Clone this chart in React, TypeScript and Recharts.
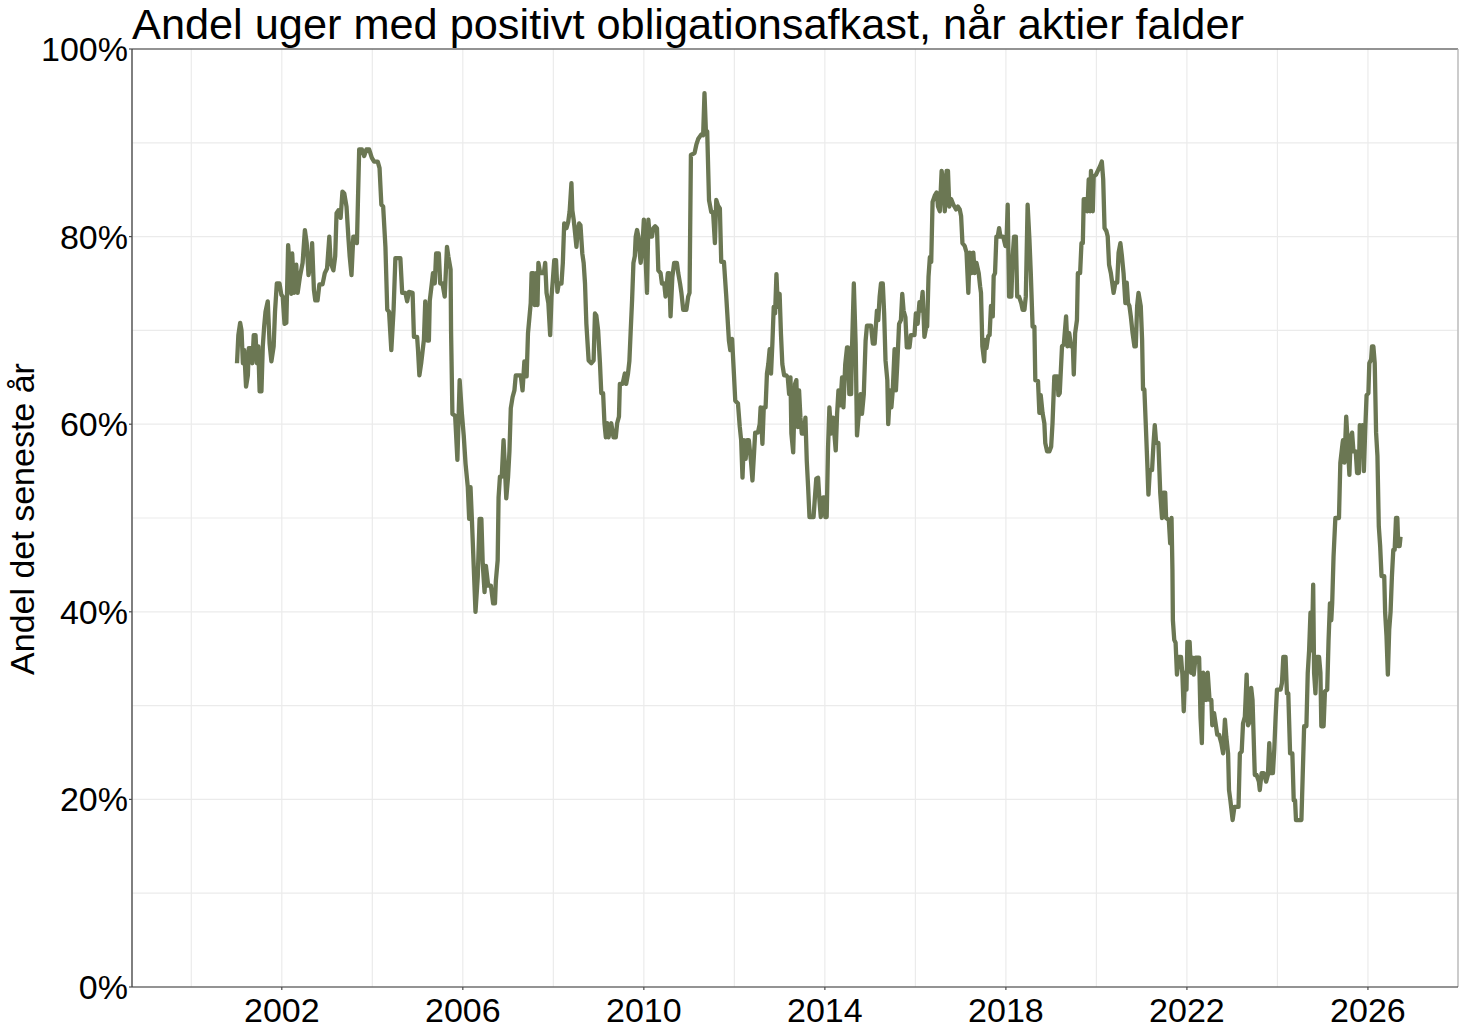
import React from 'react';
import { LineChart, Line, XAxis, YAxis, CartesianGrid, ReferenceLine } from 'recharts';

const W = 1472;
const H = 1031;
const FONT = '"Liberation Sans", Arial, Helvetica, sans-serif';
const LINE_COLOR = '#6b7753';
const AXIS_COLOR = '#333333';
const TICK_FONT = 34;

const title = 'Andel uger med positivt obligationsafkast, når aktier falder';
const yLabel = 'Andel det seneste år';

// grid every 2 years / 10 %, labels every 4 years / 20 %
const gridYears = [2000, 2002, 2004, 2006, 2008, 2010, 2012, 2014, 2016, 2018, 2020, 2022, 2024, 2026];
const labelYears = [2002, 2006, 2010, 2014, 2018, 2022, 2026];
const gridPcts = [0, 10, 20, 30, 40, 50, 60, 70, 80, 90, 100];
const labelPcts = [0, 20, 40, 60, 80, 100];
const xDomain = [1998.69, 2027.99];

// week (decimal year)
const weekDates = [
  2001.01, 2001.04, 2001.08, 2001.11, 2001.14, 2001.17, 2001.21, 2001.25, 2001.27, 2001.32,
  2001.35, 2001.38, 2001.42, 2001.45, 2001.48, 2001.51, 2001.55, 2001.58, 2001.61, 2001.64,
  2001.69, 2001.73, 2001.77, 2001.82, 2001.85, 2001.89, 2001.95, 2001.99, 2002.02, 2002.06,
  2002.10, 2002.14, 2002.17, 2002.21, 2002.23, 2002.27, 2002.32, 2002.35, 2002.40, 2002.46,
  2002.51, 2002.55, 2002.59, 2002.64, 2002.67, 2002.71, 2002.74, 2002.79, 2002.83, 2002.90,
  2002.95, 2003.00, 2003.05, 2003.08, 2003.14, 2003.18, 2003.21, 2003.25, 2003.30, 2003.34,
  2003.38, 2003.43, 2003.47, 2003.50, 2003.54, 2003.58, 2003.62, 2003.66, 2003.71, 2003.77,
  2003.82, 2003.87, 2003.93, 2003.99, 2004.04, 2004.12, 2004.16, 2004.20, 2004.24, 2004.29,
  2004.33, 2004.37, 2004.42, 2004.47, 2004.51, 2004.62, 2004.66, 2004.73, 2004.77, 2004.81,
  2004.89, 2004.92, 2004.99, 2005.01, 2005.04, 2005.08, 2005.14, 2005.17, 2005.22, 2005.25,
  2005.27, 2005.31, 2005.34, 2005.38, 2005.41, 2005.47, 2005.50, 2005.55, 2005.60, 2005.65,
  2005.68, 2005.73, 2005.74, 2005.77, 2005.83, 2005.88, 2005.93, 2005.98, 2006.02, 2006.06,
  2006.11, 2006.14, 2006.17, 2006.20, 2006.28, 2006.33, 2006.37, 2006.41, 2006.44, 2006.48,
  2006.51, 2006.56, 2006.62, 2006.67, 2006.71, 2006.73, 2006.77, 2006.79, 2006.82, 2006.86,
  2006.90, 2006.93, 2006.96, 2007.00, 2007.03, 2007.06, 2007.10, 2007.14, 2007.17, 2007.28,
  2007.32, 2007.36, 2007.41, 2007.44, 2007.47, 2007.50, 2007.52, 2007.56, 2007.59, 2007.62,
  2007.65, 2007.67, 2007.71, 2007.79, 2007.82, 2007.85, 2007.89, 2007.93, 2007.96, 2007.99,
  2008.02, 2008.06, 2008.09, 2008.12, 2008.18, 2008.21, 2008.24, 2008.29, 2008.33, 2008.36,
  2008.40, 2008.42, 2008.45, 2008.48, 2008.51, 2008.54, 2008.57, 2008.60, 2008.64, 2008.67,
  2008.70, 2008.73, 2008.78, 2008.84, 2008.89, 2008.92, 2008.95, 2008.99, 2009.03, 2009.06,
  2009.10, 2009.13, 2009.16, 2009.19, 2009.22, 2009.28, 2009.33, 2009.38, 2009.41, 2009.45,
  2009.47, 2009.53, 2009.58, 2009.61, 2009.65, 2009.68, 2009.71, 2009.74, 2009.77, 2009.80,
  2009.82, 2009.85, 2009.88, 2009.90, 2009.93, 2009.97, 2010.00, 2010.03, 2010.07, 2010.10,
  2010.13, 2010.18, 2010.21, 2010.25, 2010.29, 2010.32, 2010.37, 2010.40, 2010.45, 2010.48,
  2010.53, 2010.56, 2010.59, 2010.63, 2010.67, 2010.73, 2010.76, 2010.80, 2010.83, 2010.87,
  2010.94, 2010.98, 2011.01, 2011.04, 2011.12, 2011.16, 2011.20, 2011.27, 2011.31, 2011.34,
  2011.37, 2011.40, 2011.44, 2011.49, 2011.53, 2011.57, 2011.60, 2011.64, 2011.68, 2011.71,
  2011.77, 2011.82, 2011.88, 2011.91, 2011.95, 2011.99, 2012.02, 2012.08, 2012.12, 2012.15,
  2012.18, 2012.21, 2012.25, 2012.28, 2012.32, 2012.37, 2012.40, 2012.43, 2012.46, 2012.52,
  2012.56, 2012.58, 2012.62, 2012.65, 2012.69, 2012.72, 2012.75, 2012.78, 2012.81, 2012.84,
  2012.87, 2012.90, 2012.93, 2012.96, 2013.00, 2013.03, 2013.06, 2013.10, 2013.15, 2013.18,
  2013.21, 2013.24, 2013.26, 2013.30, 2013.34, 2013.37, 2013.40, 2013.43, 2013.46, 2013.49,
  2013.54, 2013.57, 2013.60, 2013.63, 2013.66, 2013.75, 2013.78, 2013.81, 2013.85, 2013.88,
  2013.91, 2013.96, 2013.99, 2014.01, 2014.04, 2014.07, 2014.10, 2014.14, 2014.18, 2014.21,
  2014.24, 2014.27, 2014.30, 2014.34, 2014.38, 2014.41, 2014.45, 2014.49, 2014.51, 2014.54,
  2014.58, 2014.60, 2014.64, 2014.68, 2014.71, 2014.75, 2014.79, 2014.82, 2014.86, 2014.90,
  2014.93, 2015.02, 2015.06, 2015.10, 2015.15, 2015.18, 2015.21, 2015.24, 2015.28, 2015.31,
  2015.34, 2015.38, 2015.40, 2015.44, 2015.47, 2015.50, 2015.54, 2015.57, 2015.60, 2015.64,
  2015.68, 2015.71, 2015.74, 2015.78, 2015.81, 2015.87, 2015.90, 2015.98, 2016.01, 2016.05,
  2016.09, 2016.12, 2016.16, 2016.20, 2016.24, 2016.26, 2016.29, 2016.32, 2016.35, 2016.38,
  2016.43, 2016.47, 2016.50, 2016.54, 2016.58, 2016.61, 2016.65, 2016.69, 2016.72, 2016.75,
  2016.79, 2016.84, 2016.90, 2016.94, 2016.98, 2017.01, 2017.04, 2017.09, 2017.13, 2017.17,
  2017.20, 2017.24, 2017.28, 2017.31, 2017.35, 2017.40, 2017.43, 2017.45, 2017.48, 2017.52,
  2017.54, 2017.57, 2017.61, 2017.64, 2017.67, 2017.71, 2017.73, 2017.76, 2017.79, 2017.82,
  2017.85, 2017.88, 2017.94, 2017.99, 2018.01, 2018.04, 2018.07, 2018.12, 2018.15, 2018.18,
  2018.22, 2018.25, 2018.29, 2018.34, 2018.37, 2018.41, 2018.44, 2018.48, 2018.52, 2018.55,
  2018.59, 2018.63, 2018.65, 2018.71, 2018.74, 2018.77, 2018.81, 2018.85, 2018.87, 2018.91,
  2018.96, 2019.00, 2019.03, 2019.07, 2019.14, 2019.16, 2019.19, 2019.24, 2019.28, 2019.33,
  2019.36, 2019.40, 2019.44, 2019.48, 2019.50, 2019.53, 2019.57, 2019.59, 2019.64, 2019.67,
  2019.70, 2019.72, 2019.77, 2019.80, 2019.83, 2019.86, 2019.88, 2019.92, 2019.94, 2019.99,
  2020.03, 2020.08, 2020.12, 2020.15, 2020.18, 2020.22, 2020.25, 2020.28, 2020.32, 2020.36,
  2020.38, 2020.42, 2020.46, 2020.49, 2020.53, 2020.56, 2020.60, 2020.64, 2020.67, 2020.70,
  2020.73, 2020.76, 2020.80, 2020.84, 2020.87, 2020.90, 2020.93, 2020.98, 2021.01, 2021.03,
  2021.06, 2021.09, 2021.13, 2021.15, 2021.18, 2021.23, 2021.26, 2021.29, 2021.32, 2021.37,
  2021.41, 2021.45, 2021.48, 2021.52, 2021.54, 2021.60, 2021.63, 2021.66, 2021.68, 2021.69,
  2021.72, 2021.75, 2021.78, 2021.82, 2021.87, 2021.90, 2021.93, 2021.96, 2021.99, 2022.01,
  2022.06, 2022.09, 2022.12, 2022.15, 2022.19, 2022.27, 2022.30, 2022.33, 2022.36, 2022.39,
  2022.43, 2022.46, 2022.50, 2022.54, 2022.56, 2022.60, 2022.64, 2022.67, 2022.71, 2022.76,
  2022.80, 2022.84, 2022.87, 2022.91, 2022.93, 2022.96, 2023.01, 2023.05, 2023.14, 2023.17,
  2023.21, 2023.24, 2023.28, 2023.32, 2023.35, 2023.39, 2023.42, 2023.45, 2023.50, 2023.54,
  2023.59, 2023.61, 2023.65, 2023.70, 2023.75, 2023.79, 2023.82, 2023.85, 2023.90, 2023.93,
  2023.96, 2023.99, 2024.07, 2024.10, 2024.13, 2024.18, 2024.21, 2024.24, 2024.28, 2024.33,
  2024.36, 2024.39, 2024.41, 2024.53, 2024.56, 2024.59, 2024.64, 2024.67, 2024.70, 2024.73,
  2024.76, 2024.79, 2024.81, 2024.84, 2024.87, 2024.92, 2024.95, 2024.97, 2025.02, 2025.05,
  2025.10, 2025.13, 2025.16, 2025.19, 2025.21, 2025.24, 2025.28, 2025.36, 2025.39, 2025.44,
  2025.45, 2025.48, 2025.52, 2025.55, 2025.59, 2025.62, 2025.65, 2025.68, 2025.73, 2025.76,
  2025.80, 2025.82, 2025.85, 2025.88, 2025.91, 2025.94, 2025.97, 2026.01, 2026.03, 2026.07,
  2026.09, 2026.12, 2026.15, 2026.18, 2026.21, 2026.24, 2026.27, 2026.30, 2026.36, 2026.38,
  2026.41, 2026.44, 2026.47, 2026.50, 2026.53, 2026.56, 2026.59, 2026.62, 2026.65, 2026.67,
  2026.70, 2026.72,
];

// share of weeks (%) with positive bond return when stocks fell, same order as weekDates
const shareValues = [
  66.5, 69.5, 70.8, 70.0, 66.5, 67.9, 64.0, 65.2, 68.1, 68.1,
  66.5, 69.5, 69.5, 66.5, 68.3, 63.5, 63.5, 68.3, 70.4, 72.0,
  73.1, 68.6, 66.7, 68.3, 72.0, 75.0, 75.0, 73.8, 73.6, 70.7,
  70.8, 79.1, 77.2, 73.9, 78.2, 74.0, 77.0, 74.0, 75.7, 77.2,
  80.7, 79.3, 75.9, 77.2, 79.3, 74.3, 73.2, 73.2, 74.9, 74.9,
  76.1, 76.6, 80.0, 77.2, 76.4, 77.9, 82.5, 82.8, 82.0, 84.8,
  84.6, 83.2, 80.0, 77.9, 75.9, 80.0, 80.0, 79.3, 89.3, 89.3,
  88.6, 89.3, 89.3, 88.4, 88.0, 88.0, 87.3, 83.4, 83.2, 78.9,
  72.2, 72.0, 67.9, 72.2, 77.7, 77.7, 74.0, 74.0, 73.1, 74.1,
  74.0, 69.3, 69.3, 67.9, 65.2, 66.5, 69.0, 73.1, 68.9, 68.9,
  73.2, 74.8, 76.1, 75.0, 78.2, 78.2, 75.0, 75.0, 73.6, 78.9,
  77.9, 76.5, 70.0, 61.1, 60.9, 56.2, 64.7, 61.1, 58.8, 55.8,
  53.3, 49.9, 53.3, 49.9, 40.0, 43.7, 49.9, 49.9, 45.1, 42.1,
  44.9, 42.8, 42.8, 40.9, 40.9, 43.3, 45.5, 52.2, 54.4, 54.4,
  58.3, 55.4, 52.1, 54.4, 57.1, 61.7, 62.9, 63.6, 65.2, 65.2,
  63.6, 66.7, 65.1, 69.7, 71.3, 72.9, 76.1, 76.1, 72.7, 76.1,
  72.7, 77.2, 76.1, 76.1, 77.2, 74.0, 72.9, 69.5, 73.6, 75.4,
  77.5, 77.5, 74.1, 75.0, 75.0, 77.2, 81.4, 80.9, 81.6, 82.7,
  85.7, 82.8, 81.8, 80.4, 78.9, 80.7, 81.4, 81.2, 78.2, 77.2,
  75.0, 70.7, 66.8, 66.5, 66.8, 71.8, 71.6, 70.0, 66.5, 63.3,
  63.3, 60.1, 58.6, 60.1, 58.6, 60.1, 58.6, 58.6, 60.1, 60.8,
  64.3, 64.3, 65.4, 64.3, 65.4, 66.7, 70.0, 73.2, 77.2, 77.9,
  80.0, 80.7, 80.0, 78.6, 77.2, 79.1, 81.8, 78.6, 74.0, 81.8,
  80.0, 80.0, 80.9, 81.1, 80.9, 76.4, 76.1, 75.0, 75.0, 73.6,
  76.1, 76.1, 71.5, 75.7, 77.2, 77.2, 76.1, 75.0, 74.0, 72.2,
  72.2, 73.6, 74.0, 88.7, 88.9, 89.8, 90.4, 90.9, 90.8, 95.3,
  91.4, 91.2, 83.9, 82.6, 82.6, 79.3, 83.9, 83.3, 83.0, 77.3,
  77.3, 73.7, 68.9, 67.9, 69.1, 65.4, 62.5, 62.2, 59.7, 58.3,
  54.3, 58.3, 56.3, 58.3, 58.3, 55.9, 54.0, 56.5, 59.1, 59.1,
  60.0, 61.8, 57.9, 61.8, 61.8, 65.4, 66.4, 68.0, 65.4, 68.6,
  72.5, 71.8, 76.0, 72.5, 73.9, 69.6, 66.4, 65.2, 65.2, 65.0,
  63.2, 65.0, 59.0, 57.0, 64.3, 64.7, 59.7, 63.6, 60.7, 59.0,
  59.0, 60.7, 56.1, 53.3, 50.1, 50.1, 52.2, 54.2, 54.3, 51.9,
  50.1, 52.2, 52.2, 50.1, 50.1, 57.5, 61.8, 59.0, 60.7, 59.0,
  57.2, 61.1, 63.6, 62.0, 65.0, 61.8, 66.4, 68.2, 68.2, 63.2,
  63.2, 68.2, 75.0, 68.6, 58.8, 61.1, 63.2, 61.1, 63.2, 68.9,
  70.5, 70.5, 68.6, 68.6, 72.1, 71.1, 73.6, 75.0, 75.0, 71.8,
  66.8, 64.7, 60.0, 63.6, 61.8, 63.6, 68.0, 63.6, 66.4, 70.7,
  71.1, 73.9, 72.1, 71.4, 68.2, 68.2, 69.5, 69.5, 71.8, 70.7,
  73.0, 72.1, 74.1, 69.3, 70.4, 70.4, 75.7, 77.8, 77.3, 83.7,
  84.4, 84.7, 83.2, 82.7, 87.0, 86.1, 82.7, 87.0, 87.0, 83.2,
  84.0, 83.4, 82.9, 83.2, 82.9, 82.2, 79.3, 79.0, 78.3, 74.0,
  78.3, 76.1, 78.3, 76.1, 77.2, 76.1, 74.7, 74.0, 68.3, 66.7,
  69.0, 68.1, 69.4, 69.5, 72.6, 71.5, 75.8, 76.1, 80.0, 80.0,
  80.9, 80.0, 80.0, 79.0, 79.0, 83.4, 73.6, 73.6, 77.9, 80.0,
  80.0, 73.6, 73.6, 72.9, 72.2, 72.2, 73.6, 83.4, 79.7, 76.1,
  70.4, 70.4, 64.7, 64.6, 61.2, 63.1, 61.2, 60.1, 58.0, 57.1,
  57.1, 57.6, 60.1, 65.1, 65.1, 63.1, 63.3, 68.3, 68.5, 71.5,
  68.3, 69.7, 68.3, 68.3, 65.3, 69.7, 71.1, 76.1, 76.1, 79.3,
  79.3, 84.0, 84.0, 82.7, 86.1, 82.7, 87.0, 82.7, 86.4, 86.6,
  87.0, 87.5, 88.0, 86.1, 80.9, 80.6, 80.0, 77.0, 76.1, 74.7,
  74.0, 75.1, 75.1, 78.3, 79.3, 78.1, 76.1, 72.9, 75.1, 72.9,
  72.6, 71.5, 69.7, 68.3, 68.3, 72.6, 74.0, 72.6, 69.0, 63.7,
  63.7, 60.1, 55.1, 52.5, 55.1, 55.1, 57.8, 59.9, 58.0, 58.0,
  52.7, 50.0, 52.7, 52.7, 50.0, 49.8, 47.3, 50.0, 44.5, 39.1,
  37.0, 36.7, 33.3, 35.2, 35.2, 33.3, 29.4, 33.5, 31.7, 36.8,
  36.8, 33.5, 35.1, 33.3, 35.1, 35.1, 28.8, 26.0, 33.5, 33.3,
  30.6, 33.5, 30.6, 30.6, 27.9, 29.2, 27.9, 26.9, 26.9, 26.0,
  24.9, 28.5, 26.7, 24.9, 21.0, 19.9, 17.8, 19.2, 19.2, 24.9,
  25.1, 28.1, 28.8, 33.3, 27.9, 28.3, 31.9, 30.6, 22.6, 22.6,
  21.9, 21.0, 22.8, 22.8, 21.9, 22.6, 26.0, 22.8, 22.8, 25.3,
  28.8, 31.7, 31.7, 32.4, 35.2, 35.2, 31.3, 31.3, 24.9, 24.9,
  19.9, 19.9, 17.8, 17.8, 22.8, 27.8, 27.8, 33.5, 35.9, 39.9,
  35.9, 42.9, 33.5, 31.3, 35.2, 35.2, 33.5, 27.8, 27.8, 31.5,
  31.7, 37.0, 40.9, 39.1, 40.9, 45.9, 50.0, 50.0, 55.9, 58.0,
  58.3, 55.9, 60.8, 58.3, 54.6, 58.7, 59.1, 57.1, 57.1, 54.8,
  54.8, 59.9, 57.1, 59.9, 55.0, 59.4, 63.1, 63.3, 66.5, 66.9,
  68.3, 68.3, 66.5, 59.1, 56.6, 49.1, 47.0, 43.8, 43.8, 39.9,
  37.4, 33.3, 38.1, 40.0, 43.8, 46.6, 46.6, 50.0, 50.0, 47.0,
  47.0, 48.0,
];

const data = weekDates.map((date, i) => ({ date, share: shareValues[i] }));

// x ticks: 3px mark below the axis, label underneath; minor years only get a grid line
const X_TICK = 3;
const X_GAP = 8;
function YearTick(props: any) {
  const { x, y, payload } = props;
  if (!labelYears.includes(payload.value)) return <g />;
  const axisY = y - X_TICK - X_GAP;
  return (
    <g>
      <line x1={x} x2={x} y1={axisY} y2={axisY + X_TICK} stroke="#4d4d4d" strokeWidth={1.2} />
      <text x={x} y={y + TICK_FONT * 0.71} textAnchor="middle" fontSize={TICK_FONT} fontFamily={FONT} fill="#000">
        {payload.value}
      </text>
    </g>
  );
}

const Y_TICK = 2;
const Y_GAP = 2;
function PctTick(props: any) {
  const { x, y, payload } = props;
  if (!labelPcts.includes(payload.value)) return <g />;
  const axisX = x + Y_TICK + Y_GAP;
  return (
    <g>
      <line x1={axisX - Y_TICK - 1} x2={axisX} y1={y} y2={y} stroke="#4d4d4d" strokeWidth={1.2} />
      <text x={x} y={y + TICK_FONT * 0.355} textAnchor="end" fontSize={TICK_FONT} fontFamily={FONT} fill="#000">
        {`${payload.value}%`}
      </text>
    </g>
  );
}

export default function App() {
  return (
    <div style={{ position: 'absolute', left: 0, top: 0, width: W, height: H, background: '#fff', fontFamily: FONT }}>
      <div style={{ position: 'absolute', left: 132, top: 3, fontSize: 43.3, lineHeight: 1, color: '#000', whiteSpace: 'nowrap' }}>
        {title}
      </div>
      <div
        style={{
          position: 'absolute', left: 22 - 200, top: 519 - 17, width: 400, height: 34,
          lineHeight: '34px', fontSize: 34, textAlign: 'center', color: '#000',
          transform: 'rotate(-90deg)', whiteSpace: 'nowrap',
        }}
      >
        {yLabel}
      </div>
      <LineChart width={W} height={H} data={data} margin={{ top: 49, right: 14, bottom: 0, left: 0 }}>
        <CartesianGrid stroke="#ebebeb" strokeWidth={1.2} />
        <XAxis
          dataKey="date"
          type="number"
          domain={xDomain}
          allowDataOverflow
          ticks={gridYears}
          interval={0}
          tick={<YearTick />}
          tickLine={false}
          tickSize={X_TICK}
          tickMargin={X_GAP}
          height={44}
          axisLine={{ stroke: AXIS_COLOR, strokeWidth: 1.2 }}
        />
        <YAxis
          type="number"
          domain={[0, 100]}
          ticks={gridPcts}
          interval={0}
          tick={<PctTick />}
          tickLine={false}
          tickSize={Y_TICK}
          tickMargin={Y_GAP}
          width={132}
          axisLine={{ stroke: AXIS_COLOR, strokeWidth: 1.2 }}
        />
        <ReferenceLine y={100} stroke={AXIS_COLOR} strokeWidth={1.2} />
        <ReferenceLine x={xDomain[1]} stroke="#b3b3b3" strokeWidth={1.2} />
        <Line
          type="linear"
          dataKey="share"
          stroke={LINE_COLOR}
          strokeWidth={4.3}
          strokeLinejoin="round"
          dot={false}
          activeDot={false}
          isAnimationActive={false}
        />
      </LineChart>
    </div>
  );
}
